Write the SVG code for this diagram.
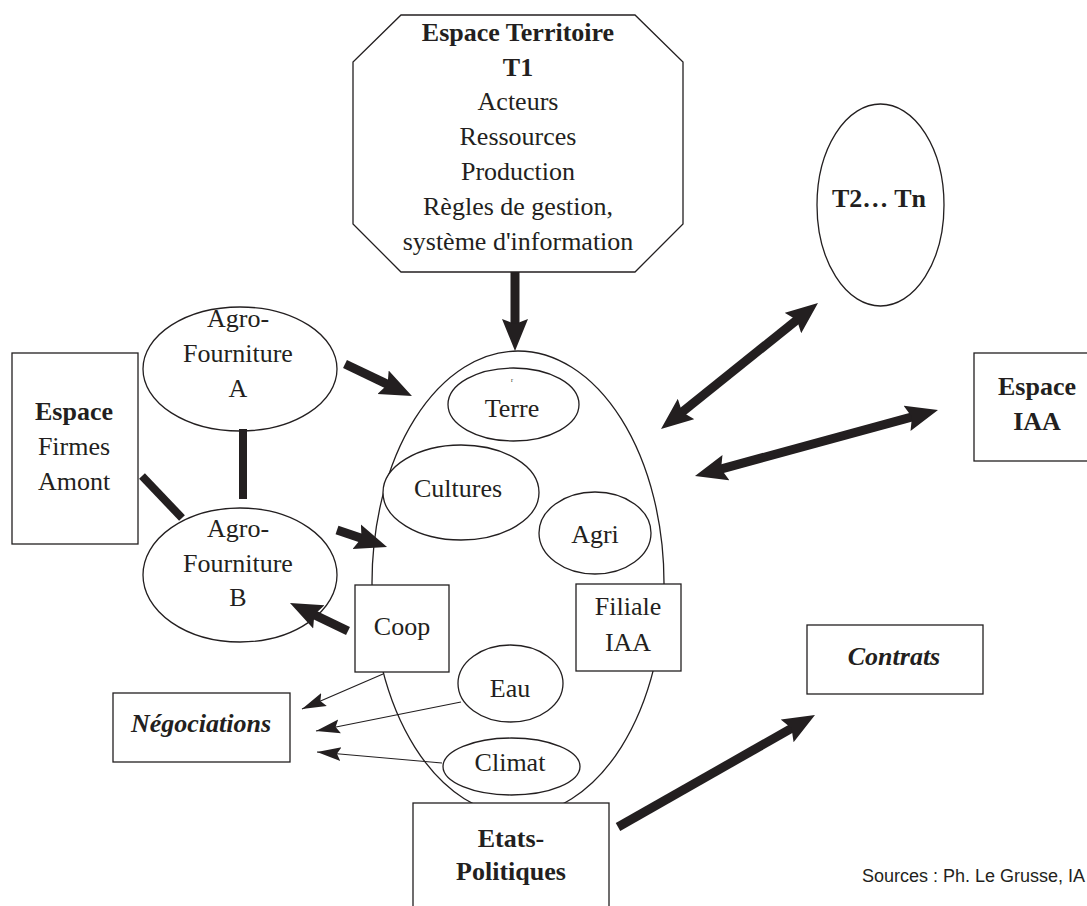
<svg xmlns="http://www.w3.org/2000/svg" width="1087" height="906" viewBox="0 0 1087 906">
<style>
.s{fill:#fff;stroke:#231f20;stroke-width:1.3}
.t{font-family:"Liberation Serif","Times New Roman",serif;font-size:26px;fill:#231f20;text-anchor:middle}
.b{font-weight:bold}
.bi{font-weight:bold;font-style:italic}
.thick{stroke:#231f20;stroke-width:9;fill:none}
.bar{stroke:#231f20;stroke-width:8;fill:none}
.thin{stroke:#231f20;stroke-width:1.2;fill:none}
.src{font-family:"Liberation Sans",Arial,sans-serif;font-size:18px;fill:#231f20}
</style>
<defs>
<marker id="ah" markerUnits="userSpaceOnUse" viewBox="0 0 34 28" markerWidth="34" markerHeight="28" refX="12" refY="14" orient="auto-start-reverse"><path d="M0,1 L32,14 L0,27 L5,14 Z" fill="#231f20"/></marker>
<marker id="ahs" markerUnits="userSpaceOnUse" viewBox="0 0 26 16" markerWidth="26" markerHeight="16" refX="24" refY="8" orient="auto"><path d="M0,1 L24,8 L0,15 L4,8 Z" fill="#231f20"/></marker>
</defs>
<rect width="1087" height="906" fill="#fff"/>

<g id="centre">
<ellipse class="s" cx="518" cy="583" rx="146" ry="232"/>
</g>

<g id="territoire">
<polygon class="s" points="401,15 635,15 683,62 683,224 635,272 401,272 353,224 353,62"/>
<text class="t b" x="518" y="41">Espace Territoire</text>
<text class="t b" x="518" y="76">T1</text>
<text class="t" x="518" y="110">Acteurs</text>
<text class="t" x="518" y="145">Ressources</text>
<text class="t" x="518" y="180">Production</text>
<text class="t" x="518" y="215">Règles de gestion,</text>
<text class="t" x="518" y="250">système d'information</text>
</g>

<g id="t2tn">
<ellipse class="s" cx="880.5" cy="205" rx="63.5" ry="101"/>
<text class="t b" x="879" y="207">T2… Tn</text>
</g>

<g id="espace-iaa">
<rect class="s" x="974" y="353" width="130" height="108"/>
<text class="t b" x="1037" y="395">Espace</text>
<text class="t b" x="1037" y="430">IAA</text>
</g>

<g id="firmes-amont">
<rect class="s" x="12" y="353" width="126" height="191"/>
<text class="t b" x="74" y="420">Espace</text>
<text class="t" x="74" y="455">Firmes</text>
<text class="t" x="74" y="490">Amont</text>
</g>

<g id="agro-a">
<ellipse class="s" cx="240" cy="369" rx="97" ry="62"/>
<text class="t" x="238" y="327">Agro-</text>
<text class="t" x="238" y="362">Fourniture</text>
<text class="t" x="238" y="397">A</text>
</g>

<g id="agro-b">
<ellipse class="s" cx="240" cy="575" rx="97" ry="67"/>
<text class="t" x="238" y="537">Agro-</text>
<text class="t" x="238" y="572">Fourniture</text>
<text class="t" x="238" y="606">B</text>
</g>

<g id="terre">
<ellipse class="s" cx="513.5" cy="404.5" rx="65.5" ry="36.5"/>
<text class="t" x="512" y="417">Terre</text>
<text class="t" style="font-size:6px" x="512" y="382">r</text>
</g>

<g id="cultures">
<ellipse class="s" cx="461" cy="492.5" rx="78" ry="47.5"/>
<text class="t" x="458" y="497">Cultures</text>
</g>

<g id="agri">
<ellipse class="s" cx="595" cy="533" rx="56" ry="41"/>
<text class="t" x="595" y="543">Agri</text>
</g>

<g id="coop">
<rect class="s" x="355" y="585" width="94" height="87"/>
<text class="t" x="402" y="635">Coop</text>
</g>

<g id="filiale">
<rect class="s" x="576" y="584" width="105" height="87"/>
<text class="t" x="628" y="615">Filiale</text>
<text class="t" x="628" y="651">IAA</text>
</g>

<g id="eau">
<ellipse class="s" cx="510.5" cy="683.5" rx="52.5" ry="38.5"/>
<text class="t" x="510" y="697">Eau</text>
</g>

<g id="climat">
<ellipse class="s" cx="511.5" cy="766.5" rx="68.5" ry="28.5"/>
<text class="t" x="510" y="771">Climat</text>
</g>

<g id="negociations">
<rect class="s" x="113" y="693" width="177" height="69"/>
<text class="t bi" x="201" y="732">Négociations</text>
</g>

<g id="contrats">
<rect class="s" x="807" y="625" width="176" height="69"/>
<text class="t bi" x="894" y="665">Contrats</text>
</g>

<g id="etats">
<rect class="s" x="413" y="803" width="196" height="120"/>
<text class="t b" x="511" y="847">Etats-</text>
<text class="t b" x="511" y="880">Politiques</text>
</g>

<g id="connectors">
<line class="thick" x1="515" y1="272" x2="515" y2="331" marker-end="url(#ah)"/>
<line class="thick" x1="345" y1="364" x2="393.9" y2="387.4" marker-end="url(#ah)"/>
<line class="thick" x1="337" y1="530" x2="368.1" y2="540.6" marker-end="url(#ah)"/>
<line class="thick" x1="348" y1="631" x2="308" y2="611.7" marker-end="url(#ah)"/>
<line class="thick" x1="618" y1="827" x2="797.6" y2="724.9" marker-end="url(#ah)"/>
<line class="thick" x1="676.6" y1="416.5" x2="802.4" y2="315.5" marker-start="url(#ah)" marker-end="url(#ah)"/>
<line class="thick" x1="714.3" y1="470.8" x2="918.7" y2="415.2" marker-start="url(#ah)" marker-end="url(#ah)"/>
<line class="bar" x1="243" y1="429" x2="243" y2="499"/>
<line class="bar" x1="142" y1="476" x2="182" y2="518"/>
<line class="thin" x1="383" y1="674" x2="302" y2="709" marker-end="url(#ahs)"/>
<line class="thin" x1="461" y1="702" x2="316" y2="731" marker-end="url(#ahs)"/>
<line class="thin" x1="442" y1="763" x2="317" y2="752" marker-end="url(#ahs)"/>
</g>

<text class="src" x="862" y="882">Sources : Ph. Le Grusse, IA</text>
</svg>
